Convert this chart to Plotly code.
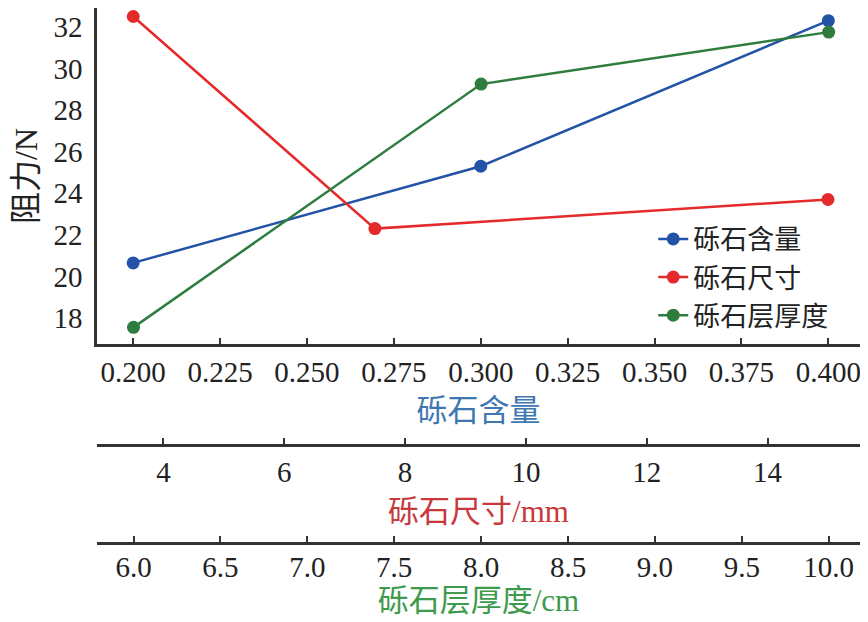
import plotly.graph_objects as go

# resistance vs three gravel factors, each on its own x axis
content = [0.2, 0.3, 0.4]
force_content = [20.65, 25.3, 32.3]

size_mm = [3.5, 7.5, 15.0]
force_size = [32.5, 22.3, 23.7]

thick_cm = [6.0, 8.0, 10.0]
force_thick = [17.55, 29.25, 31.75]

names = ['砾石含量', '砾石尺寸', '砾石层厚度']
colors = ['#2253a6', '#e52a2c', '#2e7d3e']

FONT = 'Liberation Serif, Noto Sans CJK SC'
# page body has an 8px margin, so the figure is drawn 8px smaller
W, H = 860, 614


def main():
	fig = go.Figure()
	fig.add_trace(go.Scatter(x=content, y=force_content, name=names[0],
		mode='lines+markers', xaxis='x', yaxis='y',
		line=dict(color=colors[0], width=2.5), marker=dict(size=13)))
	fig.add_trace(go.Scatter(x=size_mm, y=force_size, name=names[1],
		mode='lines+markers', xaxis='x2', yaxis='y',
		line=dict(color=colors[1], width=2.5), marker=dict(size=13)))
	fig.add_trace(go.Scatter(x=thick_cm, y=force_thick, name=names[2],
		mode='lines+markers', xaxis='x3', yaxis='y',
		line=dict(color=colors[2], width=2.5), marker=dict(size=13)))

	common = dict(showline=True, linecolor='#333', linewidth=2.5,
		ticks='inside', ticklen=6, tickwidth=2, tickcolor='#333',
		showgrid=False, zeroline=False, ticklabelstandoff=0,
		tickfont=dict(size=29, color='#222', family=FONT))

	fig.update_layout(
		width=W, height=H,
		margin=dict(l=89, r=8, t=0, b=0),
		plot_bgcolor='white', paper_bgcolor='white',
		font=dict(family=FONT),
		xaxis=dict(range=[0.1896, 0.4091], dtick=0.025, tickformat='.3f',
			title=dict(text='砾石含量', font=dict(size=31, color='#3f78b1'), standoff=13),
			**common),
		xaxis2=dict(range=[2.90, 15.53], dtick=2, tick0=0,
			overlaying='x', anchor='free', position=1 - 437 / H, side='bottom',
			title=dict(text='砾石尺寸/mm', font=dict(size=31, color='#c8383c'), standoff=13),
			**common),
		xaxis3=dict(range=[5.79, 10.18], dtick=0.5, tickformat='.1f',
			overlaying='x', anchor='free', position=1 - 535 / H, side='bottom',
			ticklabelstandoff=-3,
			title=dict(text='砾石层厚度/cm', font=dict(size=31, color='#3e9a4c'), standoff=4),
			**{k: v for k, v in common.items() if k != 'ticklabelstandoff'}),
		yaxis=dict(domain=[1 - 336 / H, 1], range=[16.75, 32.91], dtick=2,
			showline=True, linecolor='#333', linewidth=2.5, ticks='',
			showgrid=False, zeroline=False, ticklabelstandoff=6,
			tickfont=dict(size=29, color='#222', family=FONT),
			title=dict(text='阻力/N', font=dict(size=32, color='#222'), standoff=22)),
		legend=dict(x=0.729, y=0.663, xanchor='left', yanchor='top',
			bgcolor='rgba(0,0,0,0)', font=dict(size=27, color='#222'),
			tracegroupgap=0),
		showlegend=True,
	)

	fig.write_html('out.html')


if __name__ == '__main__':
	main()
